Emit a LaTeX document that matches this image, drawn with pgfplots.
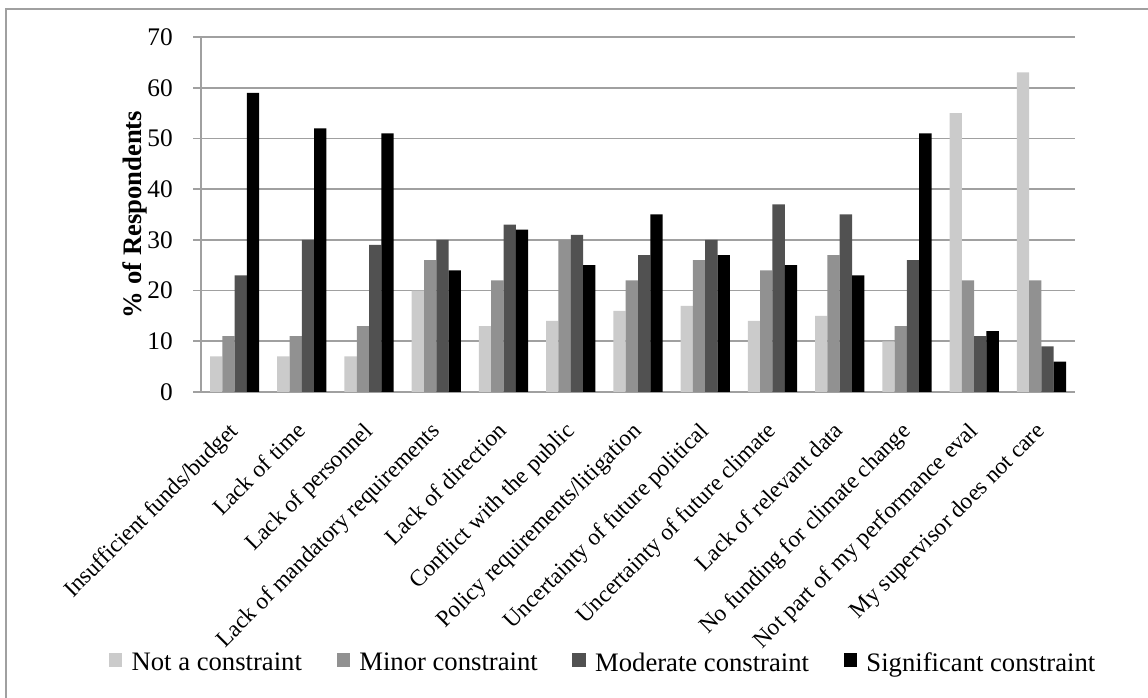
\documentclass[border=0pt]{standalone}
\usepackage{fontspec}
\setmainfont{Liberation Serif}
\usepackage{pgfplots}
\pgfplotsset{compat=1.18}
\definecolor{cA}{HTML}{CBCBCB}
\definecolor{cB}{HTML}{919191}
\definecolor{cC}{HTML}{515151}
\definecolor{cD}{HTML}{000000}
\definecolor{gridc}{HTML}{A0A0A0}
\begin{document}
\begin{tikzpicture}[x=0.75pt,y=0.75pt]
\path[use as bounding box] (0,0) rectangle (1148,698);
\begin{scope}
\clip (0,0) rectangle (1148,698);
\draw[gridc, line width=1.5pt] (6,0) -- (6,689) -- (1160,689);
\node[anchor=base east, inner sep=0pt, font=\fontsize{20}{24}\selectfont] at (1150,700) {37};
\end{scope}
\begin{axis}[
  at={(150.75pt,229.5pt)}, anchor=south west,
  scale only axis, width=655.5pt, height=266.25pt,
  xmin=0, xmax=13, ymin=0, ymax=70,
  axis lines*=left,
  axis line style={gridc, line width=1.2pt},
  ymajorgrids, grid style={gridc, line width=1.2pt},
  ytick={0,10,...,70},
  tick align=outside,
  ytick style={gridc, line width=1.2pt},
  y tick label style={font=\fontsize{19}{22}\selectfont, anchor=east, inner sep=0pt, xshift=-15pt},
  /pgf/number format/assume math mode=true,
  major tick length=6pt,
  xtick={0.5,1.5,...,12.5},
  x tick style={draw=none},
  minor xtick={0,1,...,13},
  minor x tick style={gridc, line width=1.2pt},
  minor tick length=4pt,
  xticklabels={Insufficient funds/budget, Lack of time, Lack of personnel, Lack of mandatory requirements, Lack of direction, Conflict with the public, Policy requirements/litigation, Uncertainty of future political, Uncertainty of future climate, Lack of relevant data, No funding for climate change, Not part of my performance eval, My supervisor does not care},
  xticklabel style={font=\fontsize{17.5}{21}\selectfont, rotate=45, anchor=north east, inner sep=0pt, yshift=-7.1pt, xshift=-14.6pt},
  ylabel={\% of Respondents},
  ylabel style={font=\fontsize{20}{24}\selectfont\bfseries, at={(axis description cs:-0.076,0.5)}, anchor=center, rotate=0},
  ybar=0pt, bar width=0.183,
  legend columns=4,
  legend style={at={(axis description cs:0.4605,-0.763)}, anchor=center, draw=none, fill=none,
    font=\fontsize{20}{24}\selectfont,
    /tikz/every odd column/.append style={column sep=5pt},
    /tikz/every even column/.append style={column sep=24pt},
    inner sep=0pt},
  legend image code/.code={\fill[#1] (0pt,-3pt) rectangle (10pt,7.5pt);},
]
\addplot[fill=cA, draw=none] coordinates {(0.5,7) (1.5,7) (2.5,7) (3.5,20) (4.5,13) (5.5,14) (6.5,16) (7.5,17) (8.5,14) (9.5,15) (10.5,10) (11.5,55) (12.5,63)};
\addplot[fill=cB, draw=none] coordinates {(0.5,11) (1.5,11) (2.5,13) (3.5,26) (4.5,22) (5.5,30) (6.5,22) (7.5,26) (8.5,24) (9.5,27) (10.5,13) (11.5,22) (12.5,22)};
\addplot[fill=cC, draw=none] coordinates {(0.5,23) (1.5,30) (2.5,29) (3.5,30) (4.5,33) (5.5,31) (6.5,27) (7.5,30) (8.5,37) (9.5,35) (10.5,26) (11.5,11) (12.5,9)};
\addplot[fill=cD, draw=none] coordinates {(0.5,59) (1.5,52) (2.5,51) (3.5,24) (4.5,32) (5.5,25) (6.5,35) (7.5,27) (8.5,25) (9.5,23) (10.5,51) (11.5,12) (12.5,6)};
\legend{Not a constraint, Minor constraint, Moderate constraint, Significant constraint}
\end{axis}
\end{tikzpicture}
\end{document}
